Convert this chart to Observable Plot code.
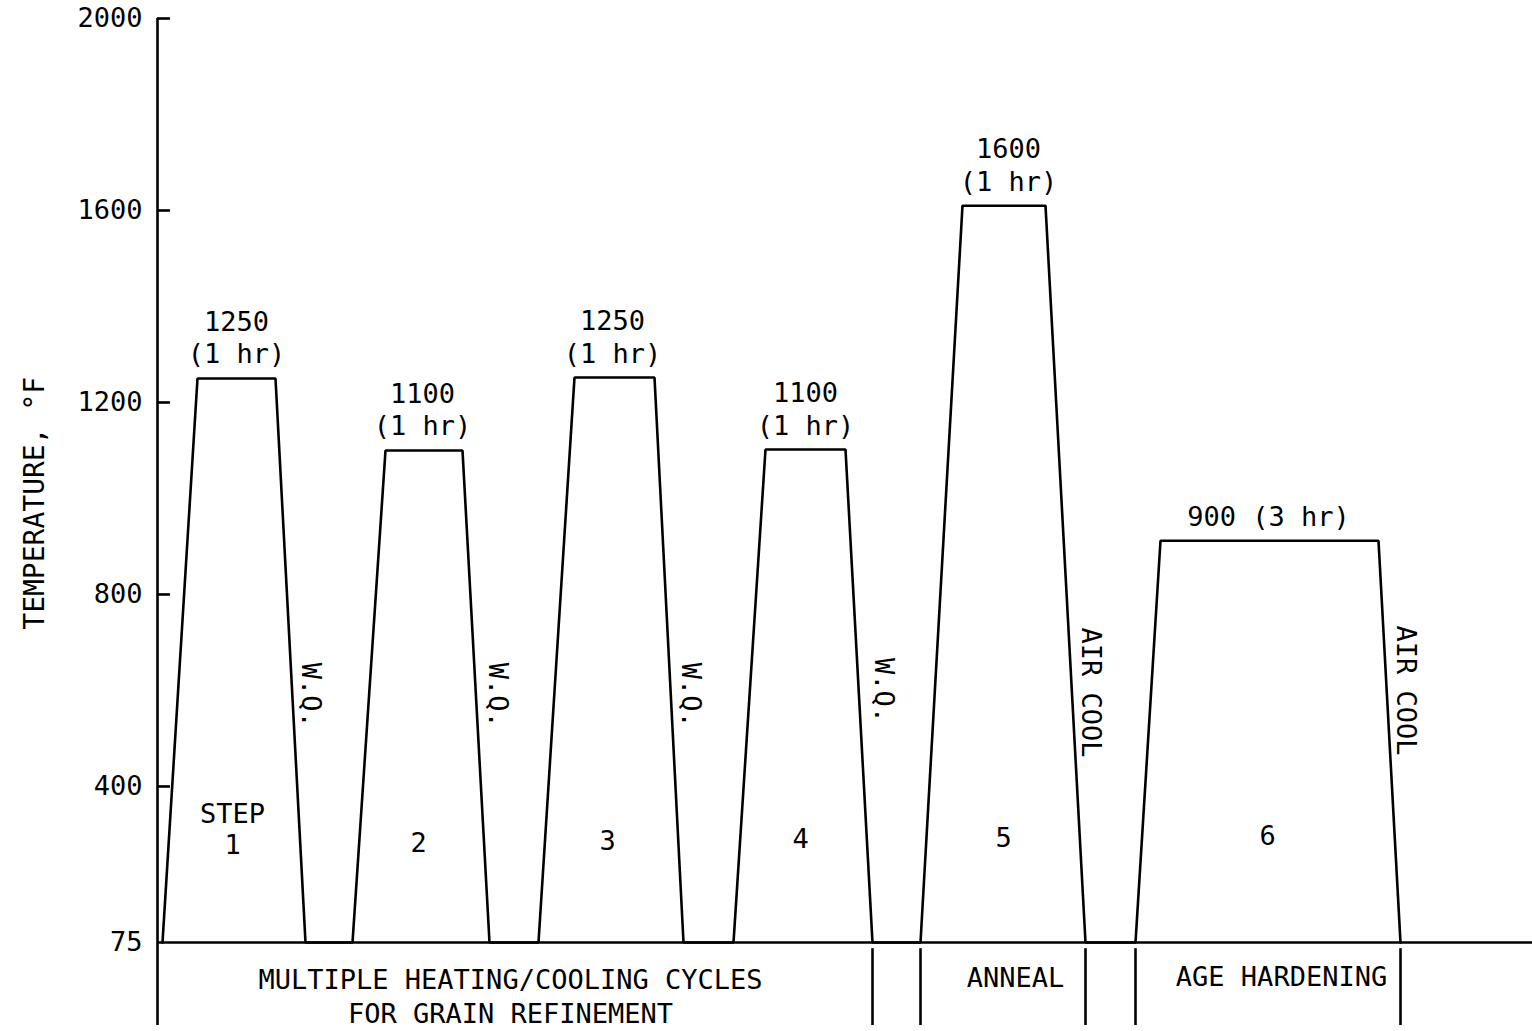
<!DOCTYPE html>
<html>
<head>
<meta charset="utf-8">
<script src="https://cdn.jsdelivr.net/npm/d3@7"></script>
<script src="https://cdn.jsdelivr.net/npm/@observablehq/plot@0.6"></script>
<style>
  html, body { margin: 0; padding: 0; background: #fff; }
</style>
</head>
<body>
<div id="chart"></div>
<script>
// ---- data (time in arbitrary units along the process, temperature in °F) ----
const yTicks = [75, 400, 800, 1200, 1600, 2000];
const yInnerTicks = [400, 800, 1200, 1600, 2000];

const profileTime = [5, 40, 118, 148, 195, 228, 305, 332, 381, 417, 497, 526, 576, 608, 688, 715, 763, 805, 888, 928, 978, 1003, 1221, 1243];
const profileTemp = [75, 1250, 1250, 75, 75, 1100, 1100, 75, 75, 1252, 1252, 75, 75, 1102, 1102, 75, 75, 1610, 1610, 75, 75, 912, 912, 75];

const peakLabels = ["1250\n(1 hr)", "1100\n(1 hr)", "1250\n(1 hr)", "1100\n(1 hr)", "1600\n(1 hr)", "900 (3 hr)"];
const peakLabelTime = [79, 265, 455, 648, 851, 1111];
const peakLabelTemp = [1250, 1100, 1252, 1102, 1610, 912];

const stepLabels = ["1", "2", "3", "4", "5", "6"];
const stepTime = [75, 261, 450, 643, 846, 1110];
const stepTemp = [278, 282, 286, 290, 292, 296];

const coolLabels = ["W.Q.", "W.Q.", "W.Q.", "W.Q.", "AIR COOL", "AIR COOL"];
const coolTime = [153, 340, 533, 726, 933, 1248];
const coolTemp = [590, 590, 590, 600, 596, 600];

const phaseLabels = ["MULTIPLE HEATING/COOLING CYCLES\nFOR GRAIN REFINEMENT", "ANNEAL", "AGE HARDENING"];
const phaseTime = [353, 858, 1124];
const phaseTemp = [-35, 4, 6];
const phaseBounds = [715, 763, 928, 978, 1243];

const profile = profileTime.map((t, i) => ({t, T: profileTemp[i]}));
const peaks = peakLabels.map((s, i) => ({s, t: peakLabelTime[i], T: peakLabelTemp[i]}));
const steps = stepLabels.map((s, i) => ({s, t: stepTime[i], T: stepTemp[i]}));
const cools = coolLabels.map((s, i) => ({s, t: coolTime[i], T: coolTemp[i]}));
const phases = phaseLabels.map((s, i) => ({s, t: phaseTime[i], T: phaseTemp[i]}));

const FONT = "DejaVu Sans Mono";
const FS = 27;
const SW = 2.6;

const chart = Plot.plot({
  width: 1532,
  height: 1031,
  marginLeft: 157,
  marginRight: 0,
  marginTop: 18,
  marginBottom: 6,
  style: {background: "white", color: "black", fontFamily: FONT, fontSize: FS + "px"},
  x: {domain: [0, 1375], axis: null},
  y: {domain: [-98, 2000], axis: null},
  marks: [
    // y axis line + inward ticks
    Plot.ruleX([0], {y1: -98, y2: 2000, stroke: "black", strokeWidth: SW}),
    Plot.ruleY(yInnerTicks, {x1: 0, x2: 13, stroke: "black", strokeWidth: SW}),
    Plot.axisY({ticks: yTicks, tickFormat: d => String(d), tickSize: 0, tickPadding: 15, label: null, fontSize: FS, fontFamily: FONT, fill: "black"}),
    // baseline (75 °F)
    Plot.ruleY([75], {x1: 0, x2: 1375, stroke: "black", strokeWidth: SW}),
    // thermal profile
    Plot.line(profile, {x: "t", y: "T", stroke: "black", strokeWidth: SW, strokeLinejoin: "miter"}),
    // peak labels
    Plot.text(peaks, {x: "t", y: "T", text: "s", lineAnchor: "bottom", dy: -15, lineHeight: 1.2, fontSize: FS, fontFamily: FONT, fill: "black"}),
    // step numbers
    Plot.text(["STEP"], {x: [75], y: [342], text: d => d, fontSize: FS, fontFamily: FONT, fill: "black"}),
    Plot.text(steps, {x: "t", y: "T", text: "s", fontSize: FS, fontFamily: FONT, fill: "black"}),
    // cooling labels
    Plot.text(cools, {x: "t", y: "T", text: "s", rotate: 90, fontSize: FS, fontFamily: FONT, fill: "black"}),
    // phase separators and labels
    Plot.ruleX(phaseBounds, {y1: 62, y2: -98, stroke: "black", strokeWidth: SW}),
    Plot.text(phases, {x: "t", y: "T", text: "s", lineHeight: 1.25, fontSize: FS, fontFamily: FONT, fill: "black"}),
    // y-axis title
    Plot.text(["TEMPERATURE, °F"], {x: [-122], y: [990], text: d => d, rotate: -90, fontSize: 28, fontFamily: FONT, fill: "black"})
  ]
});
document.getElementById("chart").appendChild(chart);
</script>
</body>
</html>
